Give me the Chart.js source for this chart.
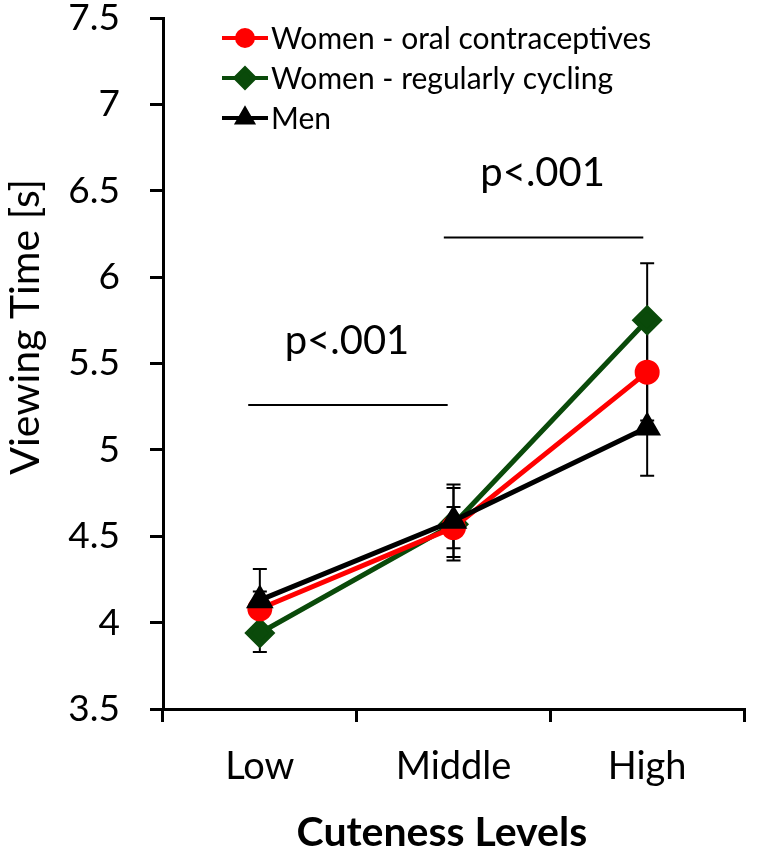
<!DOCTYPE html>
<html>
<head>
<meta charset="utf-8">
<script src="https://cdn.jsdelivr.net/npm/chart.js@4/dist/chart.umd.min.js"></script>
<style>
  html, body { margin: 0; padding: 0; background: #fff; }
  #wrap { width: 761px; height: 856px; }
</style>
</head>
<body>
<div id="wrap"><canvas id="chart" width="761" height="856"></canvas></div>
<script>
// ---- data ----
const levels = ['Low', 'Middle', 'High'];

const womenOralMeans = [4.08, 4.55, 5.45];
const womenOralErr   = [0.10, 0.12, 0.28];

const womenCyclingMeans = [3.94, 4.57, 5.75];
const womenCyclingErr   = [0.11, 0.21, 0.33];

const menMeans = [4.13, 4.59, 5.13];
const menErr   = [0.18, 0.21, 0.28];

const yTicks = { min: 3.5, max: 7.5, step: 0.5 };

// significance brackets (x in category units, y in seconds)
const sigLabels = ['p<.001', 'p<.001'];
const sigFromX  = [-0.06, 0.95];
const sigToX    = [0.97, 1.98];
const sigLineY  = [5.26, 6.23];
const sigTextX  = [0.45, 1.46];
const sigTextY  = [5.63, 6.60];

const xTitle = 'Cuteness Levels';
const yTitle = 'Viewing Time [s]';

const FONT = 'Lato, "Open Sans", sans-serif';

// error bars drawn under the lines and markers
const errorBars = {
  id: 'errorBars',
  beforeDatasetsDraw(chart) {
    const { ctx, scales: { x, y } } = chart;
    ctx.save();
    ctx.strokeStyle = '#000';
    ctx.lineWidth = 2;
    chart.data.datasets.forEach(ds => {
      ds.data.forEach((v, i) => {
        const e = ds.errors[i];
        const px = x.getPixelForValue(i);
        const top = y.getPixelForValue(v + e);
        const bot = y.getPixelForValue(v - e);
        ctx.beginPath();
        ctx.moveTo(px, top); ctx.lineTo(px, bot);
        ctx.moveTo(px - 7, top); ctx.lineTo(px + 7, top);
        ctx.moveTo(px - 7, bot); ctx.lineTo(px + 7, bot);
        ctx.stroke();
      });
    });
    ctx.restore();
  }
};

// p-value brackets
const sigMarks = {
  id: 'sigMarks',
  afterDatasetsDraw(chart) {
    const { ctx, scales: { x, y } } = chart;
    ctx.save();
    ctx.strokeStyle = '#000';
    ctx.lineWidth = 2;
    ctx.fillStyle = '#000';
    ctx.font = '40px ' + FONT;
    ctx.textAlign = 'center';
    ctx.textBaseline = 'middle';
    sigLabels.forEach((t, i) => {
      const ly = y.getPixelForValue(sigLineY[i]);
      ctx.beginPath();
      ctx.moveTo(x.getPixelForValue(sigFromX[i]), ly);
      ctx.lineTo(x.getPixelForValue(sigToX[i]), ly);
      ctx.stroke();
      ctx.fillText(t, x.getPixelForValue(sigTextX[i]), y.getPixelForValue(sigTextY[i]));
    });
    ctx.restore();
  }
};

// axis titles, placed a little off centre like the original
const axisTitles = {
  id: 'axisTitles',
  afterDraw(chart) {
    const { ctx, chartArea: a } = chart;
    ctx.save();
    ctx.fillStyle = '#000';
    ctx.textAlign = 'center';
    ctx.textBaseline = 'middle';
    ctx.font = 'bold 41px ' + FONT;
    ctx.fillText(xTitle, a.left + (a.right - a.left) * 0.48, 833);
    ctx.translate(26, a.top + (a.bottom - a.top) * 0.447);
    ctx.rotate(-Math.PI / 2);
    ctx.font = '41px ' + FONT;
    ctx.fillText(yTitle, 0, 0);
    ctx.restore();
  }
};

// Excel style legend: short line with the marker on it
const lineLegend = {
  id: 'lineLegend',
  afterDraw(chart) {
    const { ctx, chartArea } = chart;
    const x0 = chartArea.left + 59;
    let yy = chartArea.top + 20;
    ctx.save();
    ctx.font = '30px ' + FONT;
    ctx.textBaseline = 'middle';
    ctx.textAlign = 'left';
    chart.data.datasets.forEach(ds => {
      ctx.strokeStyle = ds.borderColor;
      ctx.lineWidth = 4;
      ctx.beginPath();
      ctx.moveTo(x0, yy); ctx.lineTo(x0 + 46, yy);
      ctx.stroke();
      ctx.fillStyle = ds.backgroundColor;
      ctx.strokeStyle = ds.borderColor;
      Chart.helpers.drawPoint(ctx, {
        pointStyle: ds.pointStyle, radius: ds.pointRadius * 0.8, borderWidth: 1, rotation: 0
      }, x0 + 23, yy);
      ctx.fillStyle = '#000';
      ctx.fillText(ds.label, x0 + 49, yy + 1);
      yy += 40;
    });
    ctx.restore();
  }
};

const axisStyle = {
  border: { display: true, color: '#000', width: 3 },
  grid: { display: true, drawOnChartArea: false, drawTicks: true, tickLength: 13, color: '#000', lineWidth: 3 }
};

new Chart(document.getElementById('chart'), {
  type: 'line',
  data: {
    labels: levels,
    datasets: [
      {
        label: 'Women - oral contraceptives',
        data: womenOralMeans, errors: womenOralErr,
        borderColor: '#ff0000', backgroundColor: '#ff0000',
        borderWidth: 5, pointStyle: 'circle', pointRadius: 10, order: 1
      },
      {
        label: 'Women - regularly cycling',
        data: womenCyclingMeans, errors: womenCyclingErr,
        borderColor: '#0a4a0a', backgroundColor: '#0a4a0a',
        borderWidth: 5, pointStyle: 'rectRot', pointRadius: 12, order: 2
      },
      {
        label: 'Men',
        data: menMeans, errors: menErr,
        borderColor: '#000', backgroundColor: '#000',
        borderWidth: 5, pointStyle: 'triangle', pointRadius: 11, order: 0
      }
    ]
  },
  options: {
    responsive: false,
    animation: false,
    layout: { padding: { top: 18, right: 11, left: 0, bottom: 0 } },
    plugins: { legend: { display: false }, tooltip: { enabled: false } },
    elements: { line: { tension: 0 }, point: { borderWidth: 0, hoverRadius: 10 } },
    scales: {
      x: {
        ...axisStyle,
        offset: true,
        grid: { ...axisStyle.grid, offset: true },
        ticks: { color: '#000', font: { family: FONT, size: 38 }, padding: 22 },
        afterFit(s) { s.height = 147; }
      },
      y: {
        ...axisStyle,
        min: yTicks.min, max: yTicks.max,
        ticks: {
          stepSize: yTicks.step, color: '#000', font: { family: FONT, size: 37 }, padding: 30,
          callback: v => String(v)
        },
        afterFit(s) { s.width = 163; s.paddingTop = 0; s.paddingBottom = 0; }
      }
    }
  },
  plugins: [errorBars, sigMarks, lineLegend, axisTitles]
});
</script>
</body>
</html>
